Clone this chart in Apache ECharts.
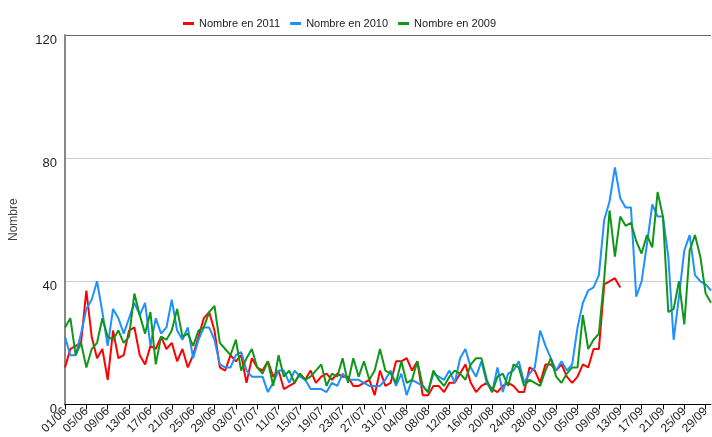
<!DOCTYPE html>
<html>
<head>
<meta charset="utf-8">
<script src="https://cdn.jsdelivr.net/npm/echarts@6/dist/echarts.min.js"></script>
<style>
  html, body { margin: 0; padding: 0; background: #fff; }
  #chart { width: 712px; height: 437px; }
</style>
</head>
<body>
<div id="chart"></div>
<script>
// jours du 01/06 au 30/09
const monthDays = [['06', 30], ['07', 31], ['08', 31], ['09', 30]];
const days = [];
monthDays.forEach(([m, n]) => {
  for (let d = 1; d <= n; d++) days.push(String(d).padStart(2, '0') + '/' + m);
});

const nombre2011 = [
  12, 18, 19, 20, 37, 22, 15, 18, 8, 24, 15, 16, 24, 25, 16, 13, 19, 18, 22, 18, 20, 14, 18, 12, 16, 22, 28, 30, 24, 12, 11, 16, 14, 16, 7, 15, 12,
  11, 14, 9, 11, 5, 6, 7, 10, 8, 11, 7, 9, 10, 8, 10, 9, 9, 6, 6, 7, 8, 3, 11, 6, 7, 14, 14, 15, 11, 14, 3, 3, 6, 6, 4, 7, 7, 10, 13, 7, 4, 6, 7,
  5, 4, 6, 7, 6, 4, 4, 12, 11, 7, 13, 13, 11, 13, 9, 7, 9, 13, 12, 18, 18, 39, 40, 41, 38
];
const nombre2010 = [
  22, 16, 16, 23, 31, 34, 40, 30, 19, 31, 28, 23, 28, 33, 29, 33, 19, 28, 23, 25, 34, 24, 21, 25, 15, 21, 25, 25, 21, 13, 12, 12, 16, 17, 11, 9, 9,
  9, 4, 7, 11, 11, 7, 11, 9, 8, 5, 5, 5, 4, 7, 6, 10, 8, 8, 8, 7, 6, 6, 6, 8, 11, 6, 10, 3, 8, 7, 6, 4, 10, 9, 8, 11, 7, 15, 18, 12, 9, 14, 7,
  4, 12, 4, 10, 11, 14, 7, 10, 12, 24, 19, 15, 11, 14, 11, 13, 25, 33, 37, 38, 42, 60, 66, 77, 67, 64, 64, 35, 40, 52, 65, 61, 61, 48, 21, 35, 50, 55, 42, 40, 39, 37
];
const nombre2009 = [
  25, 28, 16, 20, 12, 18, 20, 28, 22, 21, 24, 20, 22, 36, 29, 23, 30, 13, 22, 21, 24, 31, 22, 23, 19, 24, 25, 30, 32, 20, 18, 16, 21, 11, 15, 18, 12,
  10, 14, 6, 16, 9, 11, 7, 10, 8, 9, 11, 13, 6, 10, 9, 15, 7, 15, 9, 14, 8, 11, 18, 11, 10, 7, 14, 7, 8, 14, 6, 4, 11, 8, 6, 9, 11, 10, 8, 13, 15, 15, 8,
  4, 9, 10, 6, 13, 12, 6, 8, 7, 6, 11, 15, 9, 7, 10, 12, 12, 29, 18, 21, 23, 41, 63, 48, 61, 58, 59, 53, 49, 55, 51, 69, 61, 30, 31, 40, 26, 50, 55, 48, 36, 33
];
const seriesNames = ['Nombre en 2011', 'Nombre en 2010', 'Nombre en 2009'];
const colors = ['#ff0000', '#1e90ff', '#109618'];

const font = "'Liberation Sans', Arial, sans-serif";
const chart = echarts.init(document.getElementById('chart'));

chart.setOption({
  animation: false,
  color: colors,
  textStyle: { fontFamily: font },
  legend: {
    top: 13,
    left: 178,
    icon: 'rect',
    itemWidth: 11,
    itemHeight: 3,
    itemGap: 10,
    textStyle: { color: '#222', fontSize: 11, fontFamily: font },
    data: seriesNames
  },
  grid: { left: 61, right: -6, top: 35, bottom: 30 },
  xAxis: {
    type: 'category',
    boundaryGap: false,
    data: days,
    axisLine: { lineStyle: { color: '#000', width: 1 } },
    axisTick: { interval: 3, length: 5, lineStyle: { color: '#000' } },
    axisLabel: { interval: 3, rotate: 45, margin: 5, color: '#222', fontSize: 12, fontFamily: font },
    splitLine: { show: false }
  },
  yAxis: {
    type: 'value',
    min: 0,
    max: 120,
    interval: 40,
    name: 'Nombre',
    nameLocation: 'middle',
    nameGap: 45,
    nameTextStyle: { color: '#444', fontSize: 12, fontFamily: font },
    axisLine: { show: true, lineStyle: { color: '#888', width: 2 } },
    axisTick: { show: false },
    axisLabel: { margin: 8, verticalAlign: 'top', lineHeight: 10, color: '#222', fontSize: 13, fontFamily: font },
    splitLine: { lineStyle: { color: ['#000', '#cccccc', '#cccccc', '#666666'], width: 1 } }
  },
  series: [
    { name: seriesNames[0], type: 'line', data: nombre2011, symbol: 'none', lineStyle: { width: 2 } },
    { name: seriesNames[1], type: 'line', data: nombre2010, symbol: 'none', lineStyle: { width: 2 } },
    { name: seriesNames[2], type: 'line', data: nombre2009, symbol: 'none', lineStyle: { width: 2 } }
  ]
});
</script>
</body>
</html>
